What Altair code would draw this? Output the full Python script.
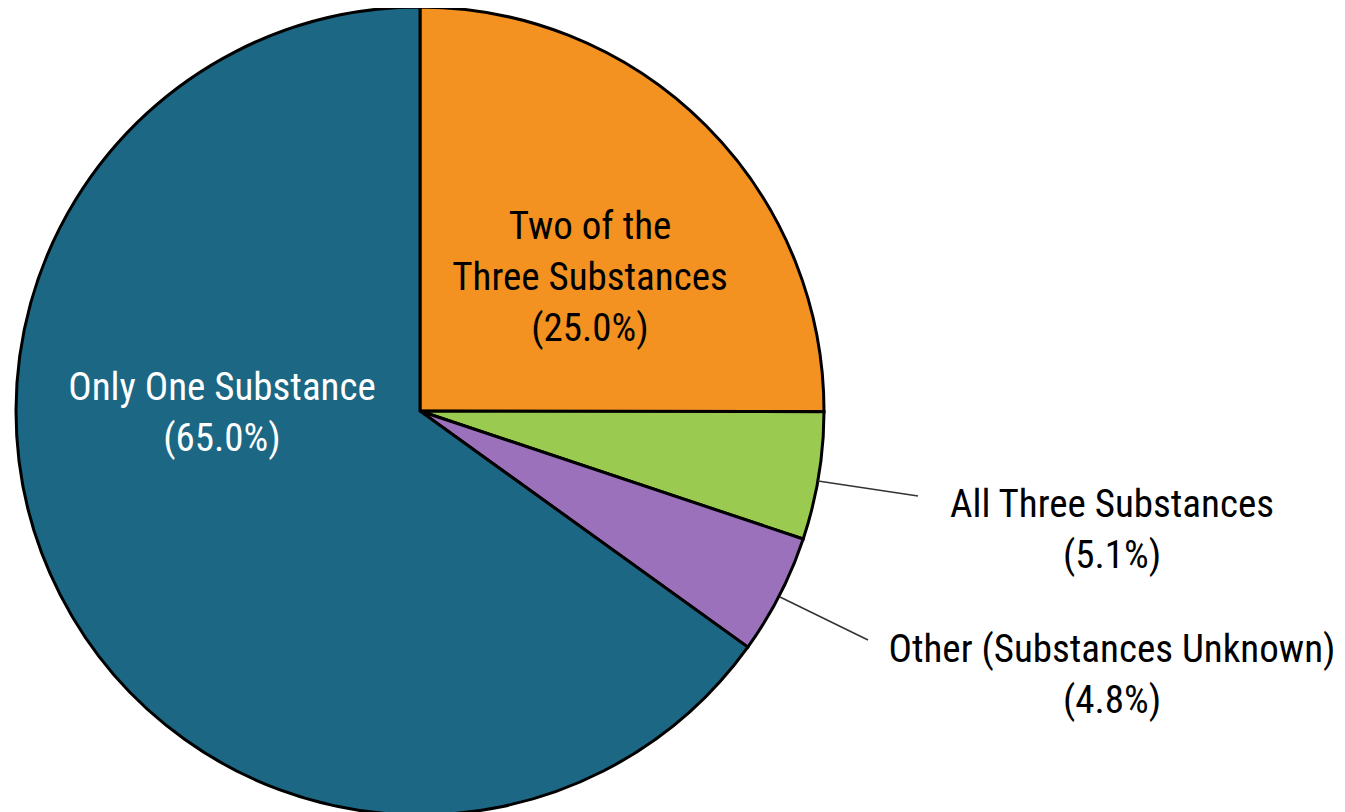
import altair as alt
import pandas as pd

categories = ["Two of the Three Substances", "All Three Substances",
              "Other (Substances Unknown)", "Only One Substance"]
values = [25.0, 5.1, 4.8, 65.0]
order_idx = [0, 1, 2, 3]
colors = ["#F39121", "#9ACA50", "#9B71BB", "#1B6784"]
label_lines = ["Two of the\nThree Substances", "All Three Substances",
               "Other (Substances Unknown)", "Only One Substance"]

df = pd.DataFrame({"category": categories, "value": values, "idx": order_idx,
                   "lbl": label_lines})

FONT = "Roboto Condensed, Liberation Sans Narrow, DejaVu Sans Condensed, sans-serif"
CX, CY, R = 412, 403, 404

base = alt.Chart(df)

pie = base.mark_arc(outerRadius=R, stroke="black", strokeWidth=3).encode(
    theta=alt.Theta("value:Q", stack=True),
    color=alt.Color("category:N", scale=alt.Scale(domain=categories, range=colors), legend=None),
    order=alt.Order("idx:Q"),
    x=alt.value(CX), y=alt.value(CY),
)

def label(cat, x, y, color):
    return base.transform_filter(alt.datum.category == cat).transform_calculate(
        txt="split(datum.lbl + '\\n(' + format(datum.value, '.1f') + '%)', '\\n')"
    ).mark_text(font=FONT, fontSize=39, lineHeight=51, align="center",
                baseline="middle", color=color).encode(
        x=alt.value(x), y=alt.value(y), text="txt:N")

labels = [
    label("Two of the Three Substances", 582, 219, "black"),
    label("Only One Substance", 214, 380, "white"),
    label("All Three Substances", 1104, 497, "black"),
    label("Other (Substances Unknown)", 1104, 642, "black"),
]

lead1 = base.transform_filter(alt.datum.category == "All Three Substances").mark_rule(
    color="#333333", strokeWidth=1.5).encode(
    x=alt.value(810), y=alt.value(473), x2=alt.value(910), y2=alt.value(488))
lead2 = base.transform_filter(alt.datum.category == "Other (Substances Unknown)").mark_rule(
    color="#333333", strokeWidth=1.5).encode(
    x=alt.value(772), y=alt.value(589), x2=alt.value(860), y2=alt.value(632))

chart = alt.layer(pie, lead1, lead2, *labels).properties(
    width=1329, height=804, padding=0,
    autosize=alt.AutoSizeParams(type="none"),
).configure_view(stroke=None)

chart.save("out.html", embed_options={"renderer": "svg", "actions": False})
